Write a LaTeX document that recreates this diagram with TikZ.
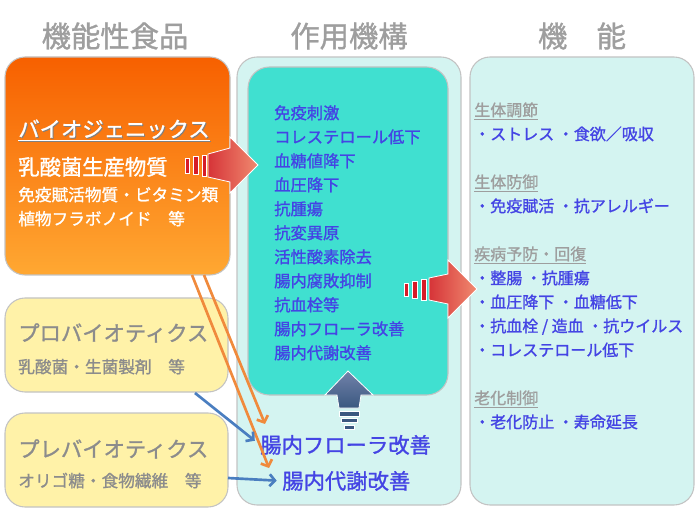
\documentclass[tikz,border=0pt]{standalone}
\usepackage{fontspec}
\setmainfont{Noto Sans CJK JP}[FakeBold=1.2]
\usetikzlibrary{positioning, arrows.meta}

\definecolor{headgray}{RGB}{158,158,158}
\definecolor{boxgray}{RGB}{140,140,140}
\definecolor{framegray}{RGB}{195,195,195}
\definecolor{orangetop}{RGB}{247,96,0}
\definecolor{orangebot}{RGB}{255,168,50}
\definecolor{paleyellow}{RGB}{255,242,168}
\definecolor{palecyan}{RGB}{212,244,241}
\definecolor{turq}{RGB}{64,224,208}
\definecolor{textblue}{RGB}{68,68,228}
\definecolor{arrowdark}{RGB}{214,52,56}
\definecolor{arrowlight}{RGB}{240,138,112}
\definecolor{stripered}{RGB}{214,28,40}
\definecolor{slatetop}{RGB}{114,130,170}
\definecolor{slatebot}{RGB}{58,88,128}
\definecolor{lineorange}{RGB}{240,138,60}
\definecolor{lineblue}{RGB}{74,126,192}

\begin{document}
\begin{tikzpicture}[x=0.75pt, y=-0.75pt,
  head/.style = {font=\fontsize{22pt}{26pt}\selectfont, text=headgray, inner sep=0pt},
  panel/.style = {draw=framegray, line width=0.8pt, rounded corners=15pt},
  big/.style = {font=\fontsize{16pt}{19pt}\selectfont, inner sep=0pt, anchor=base west},
  small/.style = {font=\fontsize{12.5pt}{15pt}\selectfont, inner sep=0pt, anchor=base west},
  item/.style = {font=\fontsize{12.2pt}{15pt}\selectfont, text=textblue, inner sep=0pt, anchor=base west},
  ritem/.style = {item, font=\fontsize{12pt}{15pt}\selectfont},
  topic/.style = {font=\fontsize{12pt}{15pt}\selectfont, text=headgray, inner sep=0pt, anchor=base west},
  listbelow/.style = {below=18pt of #1.base west, anchor=base west},
  gapbelow/.style = {below=36pt of #1.base west, anchor=base west},
  stripe/.style = {fill=stripered, draw=white, line width=0.6pt},
  orangearrow/.style = {draw=lineorange, line width=2pt, -{Straight Barb[length=4pt, width=9pt]}},
  bluearrow/.style = {draw=lineblue, line width=2pt, -{Straight Barb[length=4pt, width=9pt]}}]

\useasboundingbox (0,0) rectangle (700,520);

% column titles
\node[head] (h1) at (115,36) {機能性食品};
\node[head] (h2) at (349,36) {作用機構};
\node[head] (h3) at (582,36) {機　能};

% boxes
\node[panel, minimum width=168.75pt, minimum height=163.5pt, top color=orangetop, bottom color=orangebot] (bio) at (117.5,166) {};
\node[panel, minimum width=167.25pt, minimum height=70.5pt, fill=paleyellow] (pro) at (116.5,345) {};
\node[panel, minimum width=167.25pt, minimum height=70.5pt, fill=paleyellow] (pre) at (116.5,460) {};
\node[panel, minimum width=168pt, minimum height=336pt, fill=palecyan] (mech) at (349,281) {};
\node[panel, minimum width=150pt, minimum height=246pt, fill=turq, rounded corners=16pt] (core) at (348,231) {};
\node[panel, minimum width=168pt, minimum height=336pt, fill=palecyan] (func) at (582,281) {};

% biogenics
\node[big, text=gray] (biosh) at (19,138) {\underline{バイオジェニックス}};
\node[big, text=white] (bioname) at (18,137) {\underline{バイオジェニックス}};
\node[big, text=white] (b1) at (18,175) {乳酸菌生産物質};
\node[small, text=white] (b2) at (18,201) {免疫賦活物質・ビタミン類};
\node[small, text=white] (b3) at (18,225) {植物フラボノイド　等};

% probiotics, prebiotics
\node[big, text=boxgray] (proname) at (18,341) {プロバイオティクス};
\node[small, text=boxgray] (p1) at (18,373) {乳酸菌・生菌製剤　等};
\node[big, text=boxgray] (prename) at (18,457) {プレバイオティクス};
\node[small, text=boxgray] (q1) at (18,487) {オリゴ糖・食物繊維　等};

% mechanisms
\node[item] (m1) at (274,119) {免疫刺激};
\node[item, listbelow=m1] (m2) {コレステロール低下};
\node[item, listbelow=m2] (m3) {血糖値降下};
\node[item, listbelow=m3] (m4) {血圧降下};
\node[item, listbelow=m4] (m5) {抗腫瘍};
\node[item, listbelow=m5] (m6) {抗変異原};
\node[item, listbelow=m6] (m7) {活性酸素除去};
\node[item, listbelow=m7] (m8) {腸内腐敗抑制};
\node[item, listbelow=m8] (m9) {抗血栓等};
\node[item, listbelow=m9] (m10) {腸内フローラ改善};
\node[item, listbelow=m10] (m11) {腸内代謝改善};

\node[big, text=textblue] (flora) at (260,453) {腸内フローラ改善};
\node[big, text=textblue] (metab) at (282,489) {腸内代謝改善};

% functions
\node[topic] (t1) at (474,116) {\underline{生体調節}};
\node[ritem, listbelow=t1] (f1) {・ストレス ・食欲／吸収};
\node[topic, gapbelow=f1] (t2) {\underline{生体防御}};
\node[ritem, listbelow=t2] (f2) {・免疫賦活 ・抗アレルギー};
\node[topic, gapbelow=f2] (t3) {\underline{疾病予防・回復}};
\node[ritem, listbelow=t3] (f3) {・整腸 ・抗腫瘍};
\node[ritem, listbelow=f3] (f4) {・血圧降下 ・血糖低下};
\node[ritem, listbelow=f4] (f5) {・抗血栓 / 造血 ・抗ウイルス};
\node[ritem, listbelow=f5] (f6) {・コレステロール低下};
\node[topic, gapbelow=f6] (t4) {\underline{老化制御}};
\node[ritem, listbelow=t4] (f7) {・老化防止 ・寿命延長};

% striped block arrows
\shade[left color=arrowdark, right color=arrowlight, draw=white, line width=0.6pt]
  (208,154) -- (230,148) -- (230,137) -- (258,165) -- (230,193) -- (230,182) -- (208,177) -- cycle;
\filldraw[stripe] (185,158) rectangle (189,173);
\filldraw[stripe] (193,156) rectangle (198,174);
\filldraw[stripe] (202,155) rectangle (206,176);

\shade[left color=arrowdark, right color=arrowlight, draw=white, line width=0.6pt]
  (429,278) -- (448,274) -- (448,260) -- (477,289) -- (448,318) -- (448,304) -- (429,300) -- cycle;
\filldraw[stripe] (404,283) rectangle (408,296);
\filldraw[stripe] (412,281) rectangle (417,298);
\filldraw[stripe] (421,279) rectangle (426,300);

\shade[top color=slatetop, bottom color=slatebot, draw=white, line width=0.6pt]
  (348,371) -- (373,395) -- (361,395) -- (359,408) -- (339,408) -- (337,395) -- (325,395) -- cycle;
\filldraw[fill=slatebot, draw=white, line width=0.6pt] (339,411) rectangle (359,416);
\filldraw[fill=slatebot, draw=white, line width=0.6pt] (341,418) rectangle (357,422);
\filldraw[fill=slatebot, draw=white, line width=0.6pt] (344,425) rectangle (354,429);

% connectors
\coordinate (bioA) at (192,275);
\coordinate (bioB) at (204,275);
\coordinate (floraIn) at (265,424);
\coordinate (metabIn) at (269,468);
\coordinate (proOut) at (195,393);
\coordinate (preOut) at (228,478);

\draw[orangearrow] (bioB) -- (floraIn);
\draw[orangearrow] (bioA) -- (metabIn);
\draw[bluearrow, shorten >=5pt] (proOut) -- (flora.west);
\draw[bluearrow, shorten >=4pt] (preOut) -- (metab.west);

\end{tikzpicture}
\end{document}
